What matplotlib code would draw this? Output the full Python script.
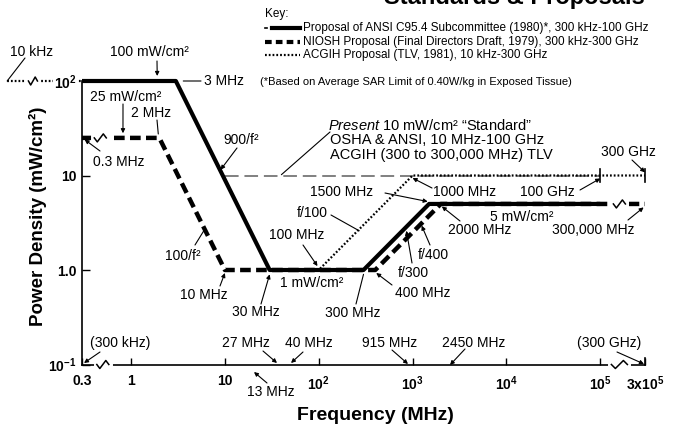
import numpy as np
import matplotlib
matplotlib.use("Agg")
import matplotlib.pyplot as plt
from matplotlib.lines import Line2D
from matplotlib.ticker import NullLocator
from matplotlib.transforms import IdentityTransform

plt.rcParams['font.family'] = ['Liberation Sans', 'DejaVu Sans']
plt.rcParams['mathtext.fontset'] = 'custom'
plt.rcParams['mathtext.rm'] = 'Liberation Sans:bold'
plt.rcParams['mathtext.it'] = 'Liberation Sans:italic'
plt.rcParams['mathtext.bf'] = 'Liberation Sans:bold'

W, H = 673, 426

# Exposure limits (frequency in MHz, power density in mW/cm2)
ansi_f = [0.3, 3, 30, 300, 1500, 100000]
ansi_pd = [100, 100, 1, 1, 5, 5]
niosh_f = [0.3, 2, 10, 400, 2000, 300000]
niosh_pd = [25, 25, 1, 1, 5, 5]
acgih_f = [0.01, 3, 30, 100, 1000, 300000]
acgih_pd = [100, 100, 1, 1, 10, 10]
osha_f = [10, 100000]
osha_pd = [10, 10]

xticks = [0.3, 1, 10, 100, 1000, 1e4, 1e5, 3e5]
xtick_labels = ['0.3', '1', '10', '$10^2$', '$10^3$', '$10^4$', '$10^5$', '3x$10^5$']
yticks = [0.1, 1, 10, 100]
ytick_labels = ['$10^{-1}$', '1.0', '10', '$10^2$']

key_labels = ['Proposal of ANSI C95.4 Subcommittee (1980)*, 300 kHz-100 GHz',
              'NIOSH Proposal (Final Directors Draft, 1979), 300 kHz-300 GHz',
              'ACGIH Proposal (TLV, 1981), 10 kHz-300 GHz']


def squeeze(f):
    # broken axis below 0.3 MHz
    f = np.asarray(f, float)
    return np.where(f < 0.3, 0.3 * (f / 0.3) ** 0.54, f)


def fp(px, py):
    return (px / W, 1 - py / H)


fig = plt.figure(figsize=(W / 100, H / 100), dpi=100)
ax = fig.add_axes([82 / W, 1 - 364.5 / H, 563 / W, 283.5 / H])
ax.set_xscale('log')
ax.set_yscale('log')
ax.set_xlim(0.3, 3e5)
ax.set_ylim(0.1, 100)
for s in ['top', 'right']:
    ax.spines[s].set_visible(False)
for s in ['left', 'bottom']:
    ax.spines[s].set_linewidth(1.2)
ax.xaxis.set_minor_locator(NullLocator())
ax.yaxis.set_minor_locator(NullLocator())
ax.set_xticks(xticks)
ax.set_xticklabels(xtick_labels, fontsize=10, fontweight='bold')
ax.set_yticks(yticks)
ax.set_yticklabels(ytick_labels, fontsize=10, fontweight='bold')
ax.tick_params(axis='x', direction='in', length=5, width=1, pad=7)
ax.tick_params(axis='y', direction='in', length=6, width=1, pad=4)
ax.get_yticklabels()[-1].set_bbox(dict(facecolor='white', edgecolor='none', pad=0.5))

# limit curves
ax.plot(osha_f, osha_pd, color='#808080', lw=1.4, dashes=(7, 3), zorder=1)
ax.plot(squeeze(acgih_f), acgih_pd, color='k', lw=1.6, dashes=(0.8, 0.9),
        clip_on=False, zorder=1.2)
ax.plot(niosh_f, niosh_pd, color='k', lw=3.2, dashes=(2.4, 1.2), clip_on=False, zorder=3)
ax.plot(ansi_f, ansi_pd, color='k', lw=3.0, solid_capstyle='butt', clip_on=False, zorder=4)

# end ticks of the ACGIH 10 mW/cm2 segment
for f in [1e5, 3e5]:
    ax.plot([f, f], [8.6, 11.6], color='k', lw=1.2, clip_on=False, zorder=4)
ax.plot([3e5, 3e5], [0.1, 0.118], color='k', lw=1.2, clip_on=False)


def zig(f, pd, w=12, h=4):
    cx, cy = ax.transData.transform((f, pd))
    fig.add_artist(Line2D([cx - w / 2, cx + w / 2], [cy, cy], color='white', lw=5,
                          transform=IdentityTransform(), zorder=5))
    xs = cx + np.array([-w / 2, -w / 4, w / 4, w / 2])
    ys = cy + np.array([0, -h, h, 0])
    fig.add_artist(Line2D(xs, ys, color='k', lw=1.1, transform=IdentityTransform(), zorder=6))


zig(0.5, 0.1)
zig(1.6e5, 0.1, w=16)
zig(0.09, 100, w=9)
zig(0.47, 25, w=12)
zig(1.6e5, 5, w=12)


def note(s, px, py, ha='left', size=10, **kw):
    fig.text(*fp(px, py), s, ha=ha, va='center', fontsize=size, **kw)


def point(start, tip, head=True, tip_data=True):
    ax.annotate('', xy=tip, xycoords='data' if tip_data else 'figure fraction',
                xytext=fp(*start), textcoords='figure fraction',
                arrowprops=dict(arrowstyle='-|>' if head else '-', lw=0.8, color='k',
                                shrinkA=0, shrinkB=0, mutation_scale=6),
                annotation_clip=False)


note('10 kHz', 10, 52)
point((25, 58), (float(squeeze(acgih_f[0])), 100), head=False)
note('100 mW/cm²', 110, 52)
point((157, 61), (1.9, 113))
note('3 MHz', 204, 81)
point((201, 81), (3.6, 100), head=False)
note('25 mW/cm²', 90, 97)
point((123, 104), (0.82, 28))
note('2 MHz', 131, 113)
point((157, 120), (1.95, 27.5), head=False)
note('0.3 MHz', 93, 162)
point((100, 151), (0.32, 24))
note('900/f²', 223, 140)
point((237, 148), (9.0, 11.5))
note('100/f²', 165, 256)
point((195, 245), (6.1, 2.7), head=False)
note('10 MHz', 180, 295)
point((220, 286), (10, 0.93))
note('30 MHz', 232, 312)
point((261, 304), (30, 0.9))
note('1 mW/cm²', 280, 283)
note('100 MHz', 269, 235)
point((303, 245), (97, 1.1))
note('f/100', 297, 213)
point((331, 215), (270, 2.6), head=False)
note('300 MHz', 325, 313)
point((356, 304), (300, 0.9), head=False)
note('400 MHz', 395, 293)
point((392, 285), (410, 0.93))
note('f/300', 398, 273)
point((412, 263), (860, 2.6))
note('f/400', 418, 255)
point((430, 245), (1250, 2.95))
note('1500 MHz', 310, 192)
point((385, 193), (1450, 5.3))
note('1000 MHz', 433, 192)
point((432, 188), (1000, 9.4))
note('100 GHz', 520, 192)
point((580, 190), (1e5, 9.3))
note('5 mW/cm²', 490, 217)
note('2000 MHz', 448, 230)
point((460, 221), (2050, 4.7))
note('300,000 MHz', 552, 230)
point((628, 220), (2.9e5, 4.6))
note('300 GHz', 601, 152)
point((632, 160), (3e5, 10.8))

note('$\\mathit{Present}$ 10 mW/cm² “Standard”', 328, 125, size=10.5)
note('OSHA & ANSI, 10 MHz-100 GHz', 330, 140, size=10.5)
note('ACGIH (300 to 300,000 MHz) TLV', 330, 155, size=10.5)
point((330, 132), (40, 10.2), head=False)

# ISM frequencies along the axis
note('(300 kHz)', 90, 343)
point((100, 352), fp(84, 363), tip_data=False)
note('27 MHz', 222, 343)
point((263, 351), fp(277, 363), tip_data=False)
note('40 MHz', 285, 343)
point((303, 352), fp(291, 363), tip_data=False)
note('13 MHz', 247, 392)
point((267, 383), fp(254, 372), tip_data=False)
note('915 MHz', 362, 343)
point((392, 350), fp(408, 364), tip_data=False)
note('2450 MHz', 442, 343)
point((465, 349), fp(450, 365), tip_data=False)
note('(300 GHz)', 577, 343)
point((617, 352), fp(644, 364), tip_data=False)

# axis titles
fig.text(*fp(375, 415), 'Frequency (MHz)', ha='center', va='center', fontsize=14,
         fontweight='bold')
fig.text(*fp(38, 216), 'Power Density (mW/cm²)', ha='center', va='center', fontsize=13.5,
         fontweight='bold', rotation=90)

# key
note('Key:', 265, 14, size=8.5)
key_styles = [dict(lw=3.0), dict(lw=3.0, dashes=(1.6, 1.0)), dict(lw=1.6, dashes=(0.8, 0.9))]
for i, (lbl, st) in enumerate(zip(key_labels, key_styles)):
    y = 28 + 13.5 * i
    x0 = 272 if i == 0 else 265
    fig.add_artist(Line2D([x0 / W, 300 / W], [1 - y / H, 1 - y / H], color='k', **st))
    note(lbl, 303, y, size=8.5)
fig.add_artist(Line2D([265 / W, 267 / W], [1 - 28 / H, 1 - 28 / H], color='k', lw=1.2))
note('(*Based on Average SAR Limit of 0.40W/kg in Exposed Tissue)', 260, 82, size=8)

# title, cut off at the top edge of the scan
fig.text(645 / W, 1 - 4 / H, 'Standards & Proposals', ha='right', va='baseline',
         fontsize=17, fontweight='bold')

fig.savefig('out.png', dpi=100)
